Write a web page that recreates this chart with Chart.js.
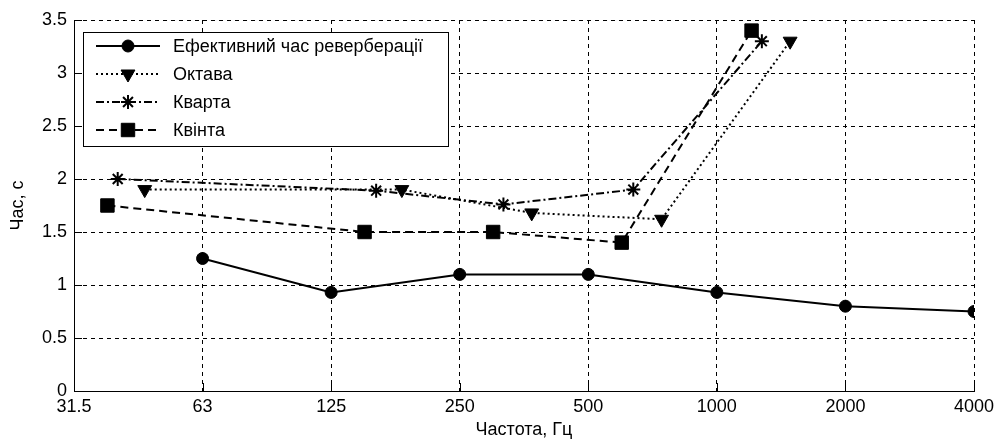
<!DOCTYPE html>
<html>
<head>
<meta charset="utf-8">
<script src="https://cdn.jsdelivr.net/npm/chart.js@4.4.0/dist/chart.umd.min.js"></script>
<style>
html, body { margin: 0; padding: 0; background: #fff; }
#wrap { width: 996px; height: 441px; }
</style>
</head>
<body>
<div id="wrap"><canvas id="chart"></canvas></div>
<script>
// x positions are in octaves above 31.5 Hz (tick index)
const freqLabels = ['31.5', '63', '125', '250', '500', '1000', '2000', '4000'];
const yTicks = [0, 0.5, 1, 1.5, 2, 2.5, 3, 3.5];

const effPos = [1, 2, 3, 4, 5, 6, 7];
const effVals = [1.25, 0.93, 1.1, 1.1, 0.93, 0.8, 0.75];

const octPos = [0.55, 2.55, 3.56, 4.57, 5.57];
const octVals = [1.9, 1.9, 1.68, 1.62, 3.3];

const quartPos = [0.34, 2.35, 3.34, 4.35, 5.35];
const quartVals = [2.0, 1.89, 1.76, 1.9, 3.3];

const quintPos = [0.26, 2.26, 3.26, 4.26, 5.27];
const quintVals = [1.75, 1.5, 1.5, 1.4, 3.4];

const seriesNames = ['Ефективний час реверберації', 'Октава', 'Кварта', 'Квінта'];

function toPoints(xs, ys) {
    return xs.map((x, i) => ({ x: x, y: ys[i] }));
}

const baseFont = 'Liberation Sans, Arial, sans-serif';

// draws the boxed legend in the top-left, MATLAB style
const legendBox = {
    id: 'legendBox',
    afterDraw(chart) {
        const ctx = chart.ctx;
        ctx.save();
        ctx.fillStyle = '#fff';
        ctx.fillRect(83.5, 32.5, 365, 114);
        ctx.strokeStyle = '#000';
        ctx.lineWidth = 1;
        ctx.strokeRect(83.5, 32.5, 365, 114);
        chart.data.datasets.forEach((ds, i) => {
            const y = 46 + i * 28;
            ctx.strokeStyle = '#000';
            ctx.fillStyle = '#000';
            ctx.lineWidth = ds.borderWidth;
            ctx.setLineDash(ds.borderDash || []);
            ctx.beginPath();
            ctx.moveTo(96, y);
            ctx.lineTo(160, y);
            ctx.stroke();
            ctx.setLineDash([]);
            ctx.lineWidth = ds.pointBorderWidth;
            Chart.helpers.drawPoint(ctx, {
                pointStyle: ds.pointStyle,
                rotation: ds.pointRotation || 0,
                radius: ds.pointRadius,
                borderWidth: ds.pointBorderWidth
            }, 128, y);
            ctx.font = '18px ' + baseFont;
            ctx.textBaseline = 'middle';
            ctx.fillStyle = '#000';
            ctx.fillText(ds.label, 173, y + 1);
        });
        ctx.restore();
    }
};

// short inward tick marks on the left and bottom axes
const innerTicks = {
    id: 'innerTicks',
    beforeDatasetsDraw(chart) {
        const ctx = chart.ctx;
        const a = chart.chartArea;
        const xs = chart.scales.x, ys = chart.scales.y;
        ctx.save();
        ctx.strokeStyle = '#000';
        ctx.lineWidth = 1;
        ctx.beginPath();
        freqLabels.forEach((_, i) => {
            const px = Math.round(xs.getPixelForValue(i)) + 0.5;
            ctx.moveTo(px, a.bottom);
            ctx.lineTo(px, a.bottom - 8);
        });
        yTicks.forEach(v => {
            const py = Math.round(ys.getPixelForValue(v)) + 0.5;
            ctx.moveTo(a.left, py);
            ctx.lineTo(a.left + 8, py);
        });
        ctx.stroke();
        ctx.restore();
    }
};

const common = {
    borderColor: '#000',
    backgroundColor: '#000',
    pointBackgroundColor: '#000',
    pointBorderColor: '#000',
    borderWidth: 2,
    pointBorderWidth: 1,
    tension: 0,
    fill: false
};

new Chart(document.getElementById('chart'), {
    type: 'scatter',
    data: {
        datasets: [
            Object.assign({}, common, {
                label: seriesNames[0],
                data: toPoints(effPos, effVals),
                showLine: true,
                pointStyle: 'circle',
                pointRadius: 6
            }),
            Object.assign({}, common, {
                label: seriesNames[1],
                data: toPoints(octPos, octVals),
                showLine: true,
                borderDash: [2, 3],
                pointStyle: 'triangle',
                pointRotation: 180,
                pointRadius: 8
            }),
            Object.assign({}, common, {
                label: seriesNames[2],
                data: toPoints(quartPos, quartVals),
                showLine: true,
                borderDash: [8, 3, 2, 3],
                pointStyle: 'star',
                pointRadius: 7,
                pointBorderWidth: 2
            }),
            Object.assign({}, common, {
                label: seriesNames[3],
                data: toPoints(quintPos, quintVals),
                showLine: true,
                borderDash: [8, 5],
                pointStyle: 'rect',
                pointRadius: 9.5
            })
        ]
    },
    options: {
        responsive: true,
        maintainAspectRatio: false,
        animation: false,
        layout: { padding: { top: 20, right: 22, left: 0, bottom: 0 } },
        plugins: {
            legend: { display: false },
            tooltip: { enabled: false }
        },
        scales: {
            x: {
                type: 'linear',
                min: 0,
                max: 7,
                afterFit: s => { s.height = 50; s.paddingLeft = 0; s.paddingRight = 0; },
                afterBuildTicks: s => { s.ticks = freqLabels.map((_, i) => ({ value: i })); },
                ticks: {
                    autoSkip: false,
                    maxRotation: 0,
                    padding: 5,
                    color: '#000',
                    font: { family: baseFont, size: 18 },
                    callback: v => freqLabels[v]
                },
                grid: { color: '#000', lineWidth: 1, drawTicks: false },
                border: { color: '#000', width: 1, dash: [4, 4] },
                title: {
                    display: true,
                    text: 'Частота, Гц',
                    color: '#000',
                    font: { family: baseFont, size: 18 },
                    padding: { top: 0, bottom: 0 }
                }
            },
            y: {
                min: 0,
                max: 3.5,
                afterFit: s => { s.width = 74; },
                afterBuildTicks: s => { s.ticks = yTicks.map(v => ({ value: v })); },
                ticks: {
                    padding: 7,
                    color: '#000',
                    font: { family: baseFont, size: 18 },
                    callback: v => String(v)
                },
                grid: { color: '#000', lineWidth: 1, drawTicks: false },
                border: { color: '#000', width: 1, dash: [4, 4] },
                title: {
                    display: true,
                    text: 'Час, с',
                    color: '#000',
                    font: { family: baseFont, size: 18 },
                    padding: { top: 7, bottom: 0 }
                }
            }
        }
    },
    plugins: [innerTicks, legendBox]
});
</script>
</body>
</html>
